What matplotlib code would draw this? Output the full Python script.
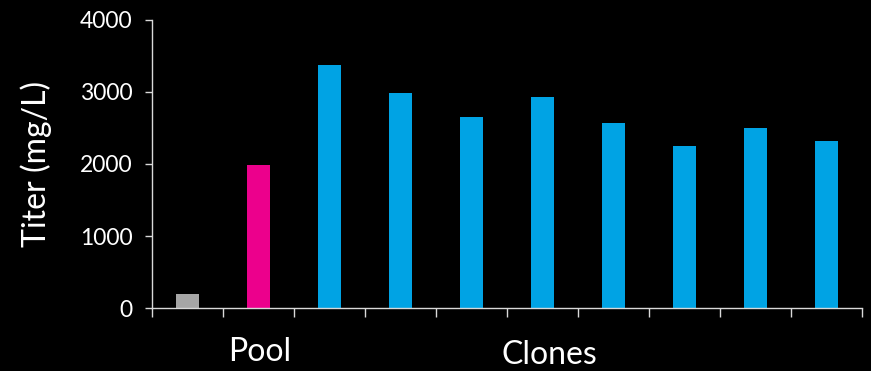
import matplotlib
matplotlib.use("Agg")
import matplotlib.pyplot as plt
import numpy as np

# Titer per sample: control, pool, then eight clones
samples = ["Control", "Pool", "C1", "C2", "C3", "C4", "C5", "C6", "C7", "C8"]
titer = [200, 1980, 3370, 2980, 2650, 2920, 2570, 2250, 2500, 2315]
bar_colors = ["#A6A6A6", "#EC008C"] + ["#00A3E4"] * 8
yticks = [0, 1000, 2000, 3000, 4000]
group_labels = ["Pool", "Clones"]

plt.rcParams["font.family"] = ["Lato", "DejaVu Sans"]

fig = plt.figure(figsize=(8.71, 3.71), dpi=100, facecolor="black")
ax = fig.add_axes([152.3 / 871, (371 - 308.3) / 371, (862 - 152.3) / 871, 288.8 / 371])
ax.set_facecolor("black")

x = np.arange(len(samples))
ax.bar(x, titer, width=0.33, color=bar_colors, zorder=2)

ax.set_xlim(-0.5, len(samples) - 0.5)
ax.set_ylim(0, 4000)
ax.set_yticks(yticks)
ax.set_yticklabels([str(v) for v in yticks], color="white", fontsize=16.5)
ax.set_xticks(np.arange(len(samples) + 1) - 0.5)
ax.set_xticklabels([])

for side in ["top", "right"]:
    ax.spines[side].set_visible(False)
for side in ["left", "bottom"]:
    ax.spines[side].set_color("#D9D9D9")
    ax.spines[side].set_linewidth(1.0)

ax.tick_params(axis="y", direction="out", length=5, width=1, color="#D9D9D9", pad=9)
ax.tick_params(axis="x", direction="out", length=6.5, width=1, color="#D9D9D9")

ax.set_ylabel("Titer (mg/L)", color="white", fontsize=23, labelpad=20)

trans = ax.get_xaxis_transform()
ax.text(1.02, -0.15, group_labels[0], transform=trans, ha="center", va="center",
        color="white", fontsize=23)
ax.text(5.09, -0.16, group_labels[1], transform=trans, ha="center", va="center",
        color="white", fontsize=23)

fig.savefig("out.png", dpi=100, facecolor="black")
